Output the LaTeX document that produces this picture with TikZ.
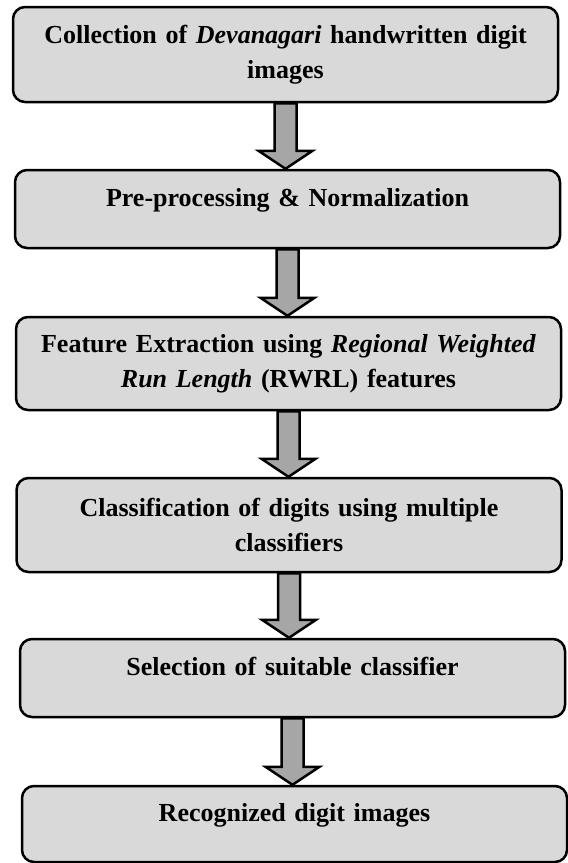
\documentclass[tikz,border=0pt]{standalone}
\usepackage{fontspec}
\setmainfont{Liberation Serif}
\usetikzlibrary{calc}

\definecolor{boxgrey}{HTML}{D9D9D9}
\definecolor{arrowgrey}{HTML}{A6A6A6}

\newcommand{\flowarrow}[2]{%
  \draw [bigarrow] let \p1 = (#1.south), \p2 = (#2.north) in
    (\x1-11pt,\y1) -- (\x1+11pt,\y1) -- (\x1+11pt,\y2+18pt) -- (\x1+27pt,\y2+18pt)
    -- (\x1,\y2) -- (\x1-27pt,\y2+18pt) -- (\x1-11pt,\y2+18pt) -- cycle;}

\begin{document}
\begin{tikzpicture}[
         x               = 1pt,
         y               = -1pt,
         box/.style      = {draw, line width=2.5pt, rounded corners=12pt, fill=boxgrey,
                            minimum width=545pt, text width=520pt, align=center, inner sep=0pt,
                            font=\fontsize{26}{35}\selectfont\bfseries},
         oneline/.style  = {text depth=24pt},
         bigarrow/.style = {draw, line width=2.5pt, fill=arrowgrey, line join=miter}]
  \useasboundingbox (0,0) rectangle (568,863);
  \node [box, minimum height=95pt] (collect) at (285.5,54.5)
        {Collection of \textit{Devanagari} handwritten digit\\images};
  \node [box, oneline, minimum height=78pt] (preproc) at (287.5,209)
        {Pre-processing \& Normalization};
  \node [box, minimum height=93pt] (feature) at (288.5,363.5)
        {Feature Extraction using \textit{Regional Weighted}\\\textit{Run Length} (RWRL) features};
  \node [box, minimum height=94pt] (classify) at (289,525)
        {Classification of digits using multiple\\classifiers};
  \node [box, oneline, minimum height=78pt] (select) at (292.5,678)
        {Selection of suitable classifier};
  \node [box, oneline, minimum height=76pt] (result) at (294.5,824)
        {Recognized digit images};
  \flowarrow{collect}{preproc}
  \flowarrow{preproc}{feature}
  \flowarrow{feature}{classify}
  \flowarrow{classify}{select}
  \flowarrow{select}{result}
\end{tikzpicture}
\end{document}
